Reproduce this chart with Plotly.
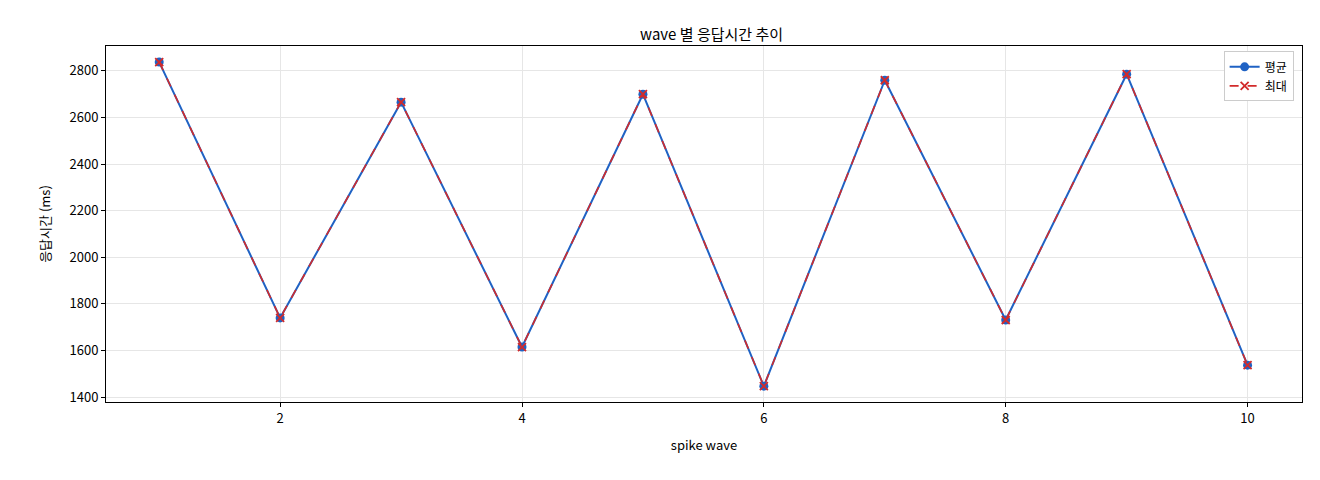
import plotly.graph_objects as go

waves = [1, 2, 3, 4, 5, 6, 7, 8, 9, 10]
avg_ms = [2838, 1740, 2666, 1615, 2700, 1447, 2760, 1731, 2786, 1537]
max_ms = [2838, 1740, 2666, 1615, 2700, 1447, 2760, 1731, 2786, 1537]

fig = go.Figure()
fig.add_trace(go.Scatter(
    x=waves, y=avg_ms, name='평균', mode='lines+markers',
    line=dict(color='#1f62c4', width=2),
    marker=dict(symbol='circle', size=9, color='#1f62c4')
))
fig.add_trace(go.Scatter(
    x=waves, y=max_ms, name='최대', mode='lines+markers',
    line=dict(color='#d22b2b', width=1.6, dash='dash'),
    marker=dict(symbol='x-thin', size=8, color='#d22b2b',
                line=dict(width=1.8, color='#d22b2b'))
))

axis = dict(
    showline=True, linecolor='black', linewidth=1, mirror=True,
    ticks='outside', ticklen=4, tickcolor='black',
    gridcolor='#e6e6e6', zeroline=False,
    tickfont=dict(size=13, color='black')
)

fig.update_layout(
    width=1320,
    height=480,
    margin=dict(l=98, r=26, t=38, b=86),
    title=dict(text='wave 별 응답시간 추이', x=0.533, y=0.955, xanchor='center',
               font=dict(size=15, color='black')),
    font=dict(family='Noto Sans CJK KR', size=13, color='black'),
    xaxis=dict(axis, title=dict(text='spike wave', font=dict(size=13)),
               range=[0.56, 10.45], dtick=2),
    yaxis=dict(axis, title=dict(text='응답시간 (ms)', font=dict(size=13)),
               range=[1379, 2907], dtick=200),
    legend=dict(x=0.993, y=0.985, xanchor='right', yanchor='top',
                bordercolor='#cccccc', borderwidth=1, bgcolor='white',
                font=dict(size=12)),
    paper_bgcolor='white',
    plot_bgcolor='white'
)

fig.write_html('out.html')
